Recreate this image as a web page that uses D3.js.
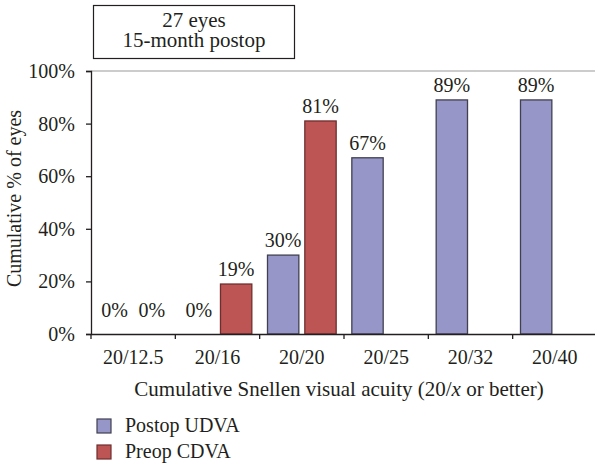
<!DOCTYPE html>
<html>
<head>
<meta charset="utf-8">
<script src="https://cdn.jsdelivr.net/npm/d3@7"></script>
</head>
<body style="margin:0; background:#fff">
<div id="chart"></div>
<script>
const categories = ['20/12.5', '20/16', '20/20', '20/25', '20/32', '20/40'];
const seriesNames = ['Postop UDVA', 'Preop CDVA'];
const postopUDVA = [0, 0, 30, 67, 89, 89];
const preopCDVA = [0, 19, 81, null, null, null];
const yTickValues = [0, 20, 40, 60, 80, 100];
const titleLines = ['27 eyes', '15-month postop'];

const width = 595;
const height = 466;
const margin = {left: 91, right: 0, top: 71, bottom: 132};
const innerWidth = 506;
const innerHeight = height - margin.top - margin.bottom;
const fontSize = 20;
const serif = '"Liberation Serif"';
const ink = '#231f20';

const colors = {'Postop UDVA': '#9696c8', 'Preop CDVA': '#bd5554'};
const strokes = {'Postop UDVA': '#404050', 'Preop CDVA': '#6e2e2e'};

function styleText(sel, size) {
  return sel.style('font-family', serif)
    .style('font-size', (size || fontSize) + 'px')
    .attr('fill', ink);
}

const svg = d3.select('#chart').append('svg')
  .attr('width', width)
  .attr('height', height);

const g = svg.append('g')
  .attr('transform', `translate(${margin.left},${margin.top})`);

const xScale = d3.scaleBand()
  .domain(categories)
  .range([0, innerWidth])
  .padding(0);
const xInner = d3.scaleBand()
  .domain(seriesNames)
  .range([0, xScale.bandwidth()])
  .paddingInner(0.16)
  .paddingOuter(0.21);
const yScale = d3.scaleLinear()
  .domain([0, 100])
  .range([innerHeight, 0]);

// top border line at 100%
g.append('line')
  .attr('x1', 0).attr('x2', innerWidth)
  .attr('y1', yScale(100)).attr('y2', yScale(100))
  .attr('stroke', '#999').attr('stroke-width', 1.2);

const rows = categories.map((c, i) => ({
  cat: c,
  values: [
    {key: seriesNames[0], v: postopUDVA[i]},
    {key: seriesNames[1], v: preopCDVA[i]}
  ].filter(d => d.v !== null)
}));

const groups = g.selectAll('.grp').data(rows)
  .enter().append('g')
  .attr('transform', d => `translate(${xScale(d.cat)},0)`);

groups.selectAll('rect').data(d => d.values.filter(v => v.v > 0))
  .enter().append('rect')
  .attr('x', d => xInner(d.key))
  .attr('width', xInner.bandwidth())
  .attr('y', d => yScale(d.v))
  .attr('height', d => yScale(0) - yScale(d.v))
  .attr('fill', d => colors[d.key])
  .attr('stroke', d => strokes[d.key])
  .attr('stroke-width', 1.3);

groups.selectAll('.lbl').data(d => d.values)
  .enter().append('text')
  .attr('class', 'lbl')
  .attr('x', d => xInner(d.key) + xInner.bandwidth() / 2)
  .attr('y', d => Math.min(yScale(d.v) - 8, yScale(0) - 17))
  .attr('text-anchor', 'middle')
  .text(d => d.v + '%')
  .call(styleText);

// y axis
const yAxis = d3.axisLeft(yScale)
  .tickValues(yTickValues)
  .tickSize(5)
  .tickPadding(11)
  .tickFormat(d => d + '%');
const yAxisG = g.append('g').call(yAxis);
yAxisG.select('.domain').attr('stroke', ink).attr('stroke-width', 1.3);
yAxisG.selectAll('line').attr('stroke', ink).attr('stroke-width', 1.3);
yAxisG.selectAll('text').call(styleText);

// x axis: labels at band centres, ticks at band boundaries
const xAxis = d3.axisBottom(xScale).tickSize(0).tickPadding(16);
const xAxisG = g.append('g')
  .attr('transform', `translate(0,${innerHeight})`)
  .call(xAxis);
xAxisG.select('.domain').attr('stroke', ink).attr('stroke-width', 1.3);
xAxisG.selectAll('text').call(styleText);
xAxisG.selectAll('.bound').data(d3.range(categories.length))
  .enter().append('line')
  .attr('x1', i => xScale.step() * i).attr('x2', i => xScale.step() * i)
  .attr('y1', 0).attr('y2', 5)
  .attr('stroke', ink).attr('stroke-width', 1.3);

// axis titles
const xTitle = g.append('text')
  .attr('x', 248)
  .attr('y', innerHeight + 62)
  .attr('text-anchor', 'middle')
  .call(styleText, 21);
xTitle.append('tspan').text('Cumulative Snellen visual acuity (20/');
xTitle.append('tspan').style('font-style', 'italic').text('x');
xTitle.append('tspan').text(' or better)');

g.append('text')
  .attr('transform', `translate(${-70},${innerHeight / 2 - 4}) rotate(-90)`)
  .attr('text-anchor', 'middle')
  .text('Cumulative % of eyes')
  .call(styleText);

// title box
svg.append('rect')
  .attr('x', 93.5).attr('y', 5.5)
  .attr('width', 201).attr('height', 53)
  .attr('fill', '#fff').attr('stroke', ink).attr('stroke-width', 1.2);
svg.selectAll('.ttl').data(titleLines)
  .enter().append('text')
  .attr('x', 194)
  .attr('y', (d, i) => 27 + i * 20)
  .attr('text-anchor', 'middle')
  .text(d => d)
  .call(styleText, 21);

// legend
const legend = svg.append('g').attr('transform', 'translate(97,419)');
const item = legend.selectAll('g').data(seriesNames)
  .enter().append('g')
  .attr('transform', (d, i) => `translate(0,${i * 26})`);
item.append('rect')
  .attr('width', 14).attr('height', 14)
  .attr('fill', d => colors[d])
  .attr('stroke', d => strokes[d]).attr('stroke-width', 1.2);
item.append('text')
  .attr('x', 28).attr('y', 13)
  .text(d => d)
  .call(styleText);
</script>
</body>
</html>
